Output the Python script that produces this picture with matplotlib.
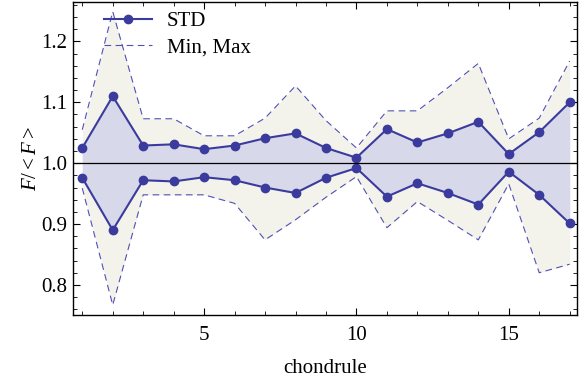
import matplotlib
matplotlib.use("Agg")
import matplotlib.pyplot as plt
from matplotlib.ticker import MultipleLocator

chondrule = list(range(1, 18))
std_hi = [1.025, 1.110, 1.029, 1.031, 1.023, 1.029, 1.041, 1.049, 1.025, 1.009,
          1.056, 1.034, 1.049, 1.068, 1.015, 1.051, 1.100]
std_lo = [0.976, 0.890, 0.972, 0.970, 0.977, 0.972, 0.960, 0.951, 0.976, 0.992,
          0.945, 0.967, 0.951, 0.932, 0.986, 0.948, 0.901]
f_max = [1.055, 1.249, 1.073, 1.073, 1.045, 1.045, 1.074, 1.127, 1.070, 1.025,
         1.086, 1.086, 1.124, 1.164, 1.040, 1.074, 1.168]
f_min = [0.959, 0.767, 0.948, 0.948, 0.948, 0.934, 0.874, 0.907, 0.944, 0.978,
         0.894, 0.937, 0.906, 0.874, 0.966, 0.820, 0.834]

plt.rcParams["font.family"] = "Liberation Serif"
plt.rcParams["mathtext.fontset"] = "custom"
plt.rcParams["mathtext.rm"] = "Liberation Serif"
plt.rcParams["mathtext.it"] = "Liberation Serif:italic"

fs = 15
line_c = "#3b3b9e"
fig = plt.figure(figsize=(5.79, 3.83), dpi=100)
ax = fig.add_axes([0.1255, 0.1775, 0.8705, 0.8175])

ax.fill_between(chondrule, f_min, f_max, color="#f3f3ec", lw=0, zorder=1)
ax.fill_between(chondrule, std_lo, std_hi, color="#d8d8eb", lw=0, zorder=2)
ax.plot(chondrule, f_max, ls=(0, (6, 4)), color="#5050b4", lw=0.8, zorder=3,
        label="Min, Max")
ax.plot(chondrule, f_min, ls=(0, (6, 4)), color="#5050b4", lw=0.8, zorder=3)
ax.plot(chondrule, std_hi, "-o", color=line_c, lw=1.5, ms=6, zorder=4, label="STD")
ax.plot(chondrule, std_lo, "-o", color=line_c, lw=1.5, ms=6, zorder=4)
ax.axhline(1.0, color="black", lw=0.9, zorder=5)

ax.set_xlim(0.685, 17.23)
ax.set_ylim(0.7505, 1.265)
ax.xaxis.set_major_locator(MultipleLocator(5))
ax.xaxis.set_minor_locator(MultipleLocator(1))
ax.yaxis.set_major_locator(MultipleLocator(0.1))
ax.yaxis.set_minor_locator(MultipleLocator(0.02))
ax.tick_params(which="both", direction="in", top=True, right=True, labelsize=fs)
ax.tick_params(which="major", length=5, width=0.8)
ax.tick_params(which="minor", length=3, width=0.6)
ax.tick_params(axis="x", which="major", pad=8)
ax.tick_params(axis="y", which="major", pad=4)
ax.set_yticklabels([f"{t:.1f}" for t in ax.get_yticks()])
for s in ax.spines.values():
    s.set_linewidth(1.0)

ax.set_xlabel("chondrule", fontsize=fs, labelpad=10)
ax.set_ylabel("$F/{<}F{>}$", fontsize=fs, labelpad=0)

h, l = ax.get_legend_handles_labels()
ax.legend(h[::-1], l[::-1], loc="upper left", frameon=False, fontsize=fs,
          bbox_to_anchor=(0.025, 1.03), handlelength=2.3, labelspacing=0.35,
          handletextpad=0.7)

fig.savefig("out.png", dpi=100)
